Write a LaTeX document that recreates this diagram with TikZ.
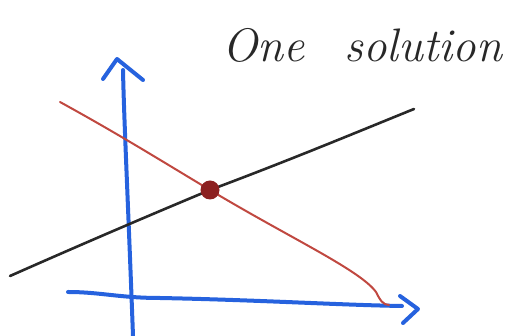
\documentclass[tikz,border=0pt]{standalone}
\usepackage{fontspec}
\begin{document}
\begin{tikzpicture}[x=1pt,y=-1pt,line cap=round,line join=round,
  axis/.style={draw=axisblue,line width=4pt},
  blackline/.style={draw=penblack,line width=2.6pt},
  redline/.style={draw=penred,line width=2pt}]
\definecolor{axisblue}{RGB}{38,98,222}
\definecolor{penred}{RGB}{192,72,64}
\definecolor{penblack}{RGB}{40,40,40}
\definecolor{dotred}{RGB}{140,32,32}
\useasboundingbox (0,0) rectangle (507,336);
% title
\node[anchor=base west,inner sep=0pt,text=penblack,font=\fontsize{47}{47}\selectfont\itshape] (title) at (222,62) {One\hspace{40pt}solution};
% vertical axis
\coordinate (vtop) at (123,70);
\coordinate (vbot) at (133,336);
\draw[axis] (vbot) .. controls (128,200) and (124,120) .. (vtop);
\coordinate (vapex) at (117,59);
\draw[axis] (103,79) -- (vapex) -- (143,80);
% horizontal axis
\coordinate (hl) at (68,292);
\coordinate (hr) at (402,306);
\draw[axis] (hl) .. controls (100,292) and (120,298) .. (160,298) .. controls (260,300) and (340,305) .. (hr);
\coordinate (happex) at (418,309);
\draw[axis] (400,296) -- (happex) -- (403,323);
% black line
\coordinate (bl) at (10,276);
\coordinate (br) at (414,109);
\draw[blackline] (bl) .. controls (80,245) and (150,215) .. (210,190) .. controls (290,160) and (350,135) .. (br);
% red line
\coordinate (rl) at (60,102);
\coordinate (rr) at (389,305);
\draw[redline] (rl) .. controls (120,135) and (160,160) .. (210,190) .. controls (290,238) and (360,270) .. (376,292) .. controls (380,300) and (383,305) .. (rr);
% solution dot
\coordinate (sol) at (210,190);
\fill[dotred] (sol) circle (9.5);
\end{tikzpicture}
\end{document}
